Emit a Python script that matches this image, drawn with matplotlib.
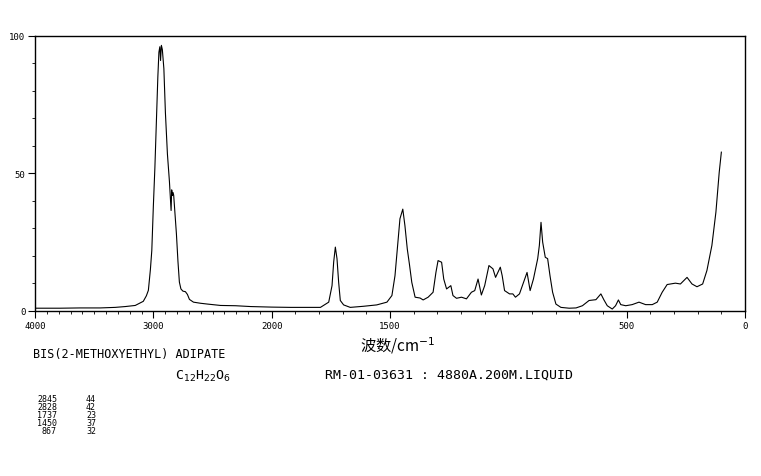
"""
Raman spectrum of bis(2-methoxyethyl) adipate, SDBS-style chart.
Wavenumber axis is split: 4000-2000 at half the scale of 2000-0.
Output: out.png
"""

import numpy as np
import matplotlib
matplotlib.use("Agg")
import matplotlib.pyplot as plt
from matplotlib.ticker import FixedLocator, MultipleLocator

# spectrum (cm-1, relative intensity)
WAVENUMBER = [4000, 3788, 3619, 3449, 3322, 3237, 3153, 3085, 3059, 3042,
              3025, 3013, 3000, 2987, 2975, 2962, 2953, 2945, 2939, 2932,
              2924, 2911, 2898, 2881, 2864, 2856, 2850, 2845, 2838, 2833,
              2828, 2818, 2805, 2792, 2780, 2767, 2750, 2729, 2712, 2695,
              2661, 2602, 2542, 2432, 2305, 2178, 2000, 1920, 1836, 1794,
              1759, 1745, 1738, 1731, 1724, 1717, 1710, 1696, 1668, 1612,
              1556, 1513, 1492, 1479, 1469, 1458, 1446, 1437, 1427, 1418,
              1408, 1394, 1373, 1360, 1339, 1318, 1306, 1297, 1282, 1273,
              1261, 1243, 1234, 1219, 1198, 1177, 1156, 1142, 1128, 1114,
              1100, 1082, 1065, 1054, 1034, 1026, 1016, 995, 981, 970,
              953, 936, 921, 908, 894, 876, 869, 862, 855, 844,
              834, 824, 813, 799, 778, 743, 714, 687, 659, 630,
              609, 596, 582, 561, 547, 535, 525, 504, 477, 448,
              420, 392, 371, 350, 329, 294, 273, 245, 224, 203,
              179, 161, 140, 123, 109, 100]
INTENSITY = [1.0, 1.0, 1.1, 1.1, 1.3, 1.6, 2.0, 3.5, 5.5, 7.5,
             15.0, 22.0, 38.0, 52.0, 68.0, 85.0, 94.0, 96.0, 91.0, 96.5,
             95.0, 88.0, 72.0, 57.0, 47.0, 41.0, 36.5, 44.0, 42.0, 43.0,
             42.0, 36.0, 28.0, 18.0, 10.5, 8.0, 7.2, 7.0, 6.0, 4.2,
             3.2, 2.8, 2.5, 2.0, 1.9, 1.6, 1.4, 1.3, 1.3, 1.3,
             3.2, 9.2, 17.8, 23.2, 19.0, 10.4, 3.8, 2.2, 1.3, 1.7,
             2.2, 3.2, 5.6, 12.8, 22.5, 33.5, 37.0, 31.0, 22.5, 17.0,
             10.4, 5.0, 4.7, 4.0, 5.0, 6.8, 14.0, 18.3, 17.7, 11.6,
             8.0, 9.2, 5.6, 4.6, 5.0, 4.4, 6.8, 7.4, 11.6, 5.8,
             9.2, 16.5, 15.3, 12.2, 15.9, 12.8, 7.4, 6.2, 6.2, 5.0,
             6.2, 10.4, 14.0, 7.4, 11.6, 19.0, 23.8, 32.2, 25.0, 19.5,
             19.0, 12.8, 6.8, 2.5, 1.3, 1.0, 1.1, 1.9, 3.8, 4.1,
             6.2, 4.0, 1.9, 0.7, 1.9, 4.0, 2.3, 1.9, 2.3, 3.2,
             2.3, 2.3, 3.2, 6.8, 9.6, 10.1, 9.8, 12.2, 9.8, 8.8,
             9.8, 14.7, 23.8, 35.9, 50.4, 57.7]

X_MAJOR = [4000, 3000, 2000, 1500, 500, 0]
X_LABELS = ["4000", "3000", "2000", "1500", "500", "0"]
Y_MAJOR = [0, 50, 100]
Y_LABELS = ["0", "50", "100"]

COMPOUND = "BIS(2-METHOXYETHYL) ADIPATE"
FORMULA = r"C$_{12}$H$_{22}$O$_{6}$"
SAMPLE = "RM-01-03631 : 4880A.200M.LIQUID"
PEAK_WN = ["2845", "2828", "1737", "1450", "867"]
PEAK_INT = ["44", "42", "23", "37", "32"]

MONO = "DejaVu Sans Mono"
CJK = ["Noto Sans CJK SC", "DejaVu Sans"]


def forward(wn):
    # 2000-0 at full scale, above 2000 compressed by half
    wn = np.asarray(wn, dtype=float)
    return np.where(wn >= 2000, 1000 + wn * 0.5, wn)


def inverse(pos):
    pos = np.asarray(pos, dtype=float)
    return np.where(pos >= 2000, (pos - 1000) * 2, pos)


def plot_spectrum():
    fig = plt.figure(figsize=(7.61, 4.77), dpi=100)
    ax = fig.add_axes([0.046, 0.346, 0.933, 0.577])

    ax.plot(WAVENUMBER, INTENSITY, color="black", linewidth=0.8)

    ax.set_xscale("function", functions=(forward, inverse))
    ax.set_xlim(4000, 0)
    ax.set_ylim(0, 100)

    ax.xaxis.set_major_locator(FixedLocator(X_MAJOR))
    ax.set_xticklabels(X_LABELS)
    ax.xaxis.set_minor_locator(MultipleLocator(100))
    ax.yaxis.set_major_locator(FixedLocator(Y_MAJOR))
    ax.set_yticklabels(Y_LABELS)
    ax.yaxis.set_minor_locator(MultipleLocator(10))

    ax.tick_params(axis="both", which="major", direction="out", length=5,
                   width=0.8, labelsize=6.5, pad=2)
    ax.tick_params(axis="both", which="minor", direction="out", length=2.5,
                   width=0.6)
    for lab in ax.get_xticklabels() + ax.get_yticklabels():
        lab.set_family(MONO)
    for sp in ax.spines.values():
        sp.set_linewidth(1.0)

    fig.text(398 / 761, 1 - 346 / 477, r"波数/cm$^{-1}$", family=CJK,
             fontsize=11, ha="center", va="center")

    fig.text(33 / 761, 1 - 355 / 477, COMPOUND, family=MONO, fontsize=8.5,
             ha="left", va="center")
    fig.text(175 / 761, 1 - 376 / 477, FORMULA, family=MONO, fontsize=9.5,
             ha="left", va="center")
    fig.text(325 / 761, 1 - 375 / 477, SAMPLE, family=MONO, fontsize=9.5,
             ha="left", va="center")

    for i, (wn, val) in enumerate(zip(PEAK_WN, PEAK_INT)):
        y = 1 - (400 + i * 7.8) / 477
        fig.text(57 / 761, y, wn, family=MONO, fontsize=6,
                 ha="right", va="center")
        fig.text(96 / 761, y, val, family=MONO, fontsize=6,
                 ha="right", va="center")

    fig.savefig("out.png", dpi=100)
    plt.close(fig)


if __name__ == "__main__":
    plot_spectrum()
